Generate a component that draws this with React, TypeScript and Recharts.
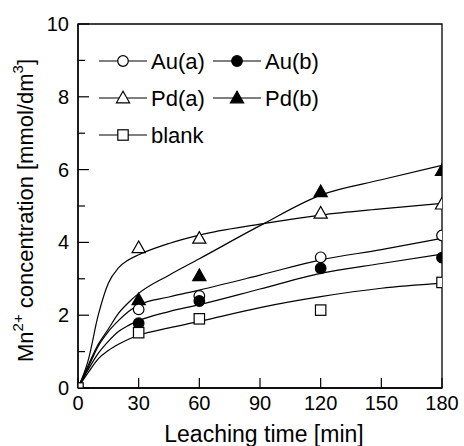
import React from 'react';
import { ComposedChart, Line, Scatter, XAxis, YAxis, ReferenceArea } from 'recharts';

// measured points
const pointTimes = [30, 60, 120, 180];
const auA = [2.16, 2.53, 3.59, 4.19];
const auB = [1.78, 2.39, 3.29, 3.58];
const pdA = [3.85, 4.11, 4.8, 5.05];
const pdB = [2.42, 3.08, 5.39, 5.97];
const blankTimes = [0, 30, 60, 120, 180];
const blankVals = [0, 1.52, 1.9, 2.14, 2.9];

// fitted curves
const curveTimes = [0, 5, 10, 15, 20, 25, 30, 45, 60, 90, 120, 150, 180];
const pdACurve = [0, 0.75, 2.0, 2.88, 3.3, 3.52, 3.66, 3.97, 4.2, 4.5, 4.75, 4.92, 5.07];
const pdBCurve = [0, 0.62, 1.2, 1.62, 2.05, 2.35, 2.6, 3.1, 3.55, 4.46, 5.3, 5.72, 6.12];
const auACurve = [0, 0.56, 1.15, 1.55, 1.85, 2.1, 2.28, 2.5, 2.69, 3.1, 3.52, 3.8, 4.11];
const auBCurve = [0, 0.5, 0.95, 1.28, 1.55, 1.72, 1.85, 2.1, 2.29, 2.72, 3.15, 3.42, 3.68];
const blankCurve = [0, 0.42, 0.8, 1.03, 1.2, 1.34, 1.45, 1.65, 1.83, 2.21, 2.51, 2.74, 2.88];

const xTicks = [0, 30, 60, 90, 120, 150, 180];
const yTicks = [0, 1, 2, 3, 4, 5, 6, 7, 8, 9, 10];

const curveRows = curveTimes.map((t, i) => ({
  x: t,
  pda: pdACurve[i],
  pdb: pdBCurve[i],
  aua: auACurve[i],
  aub: auBCurve[i],
  blank: blankCurve[i],
}));
const toRows = (ts: number[], vs: number[]) => ts.map((t, i) => ({ x: t, y: vs[i] }));

const FONT = '"Liberation Sans", Arial, sans-serif';

type Kind = 'circle' | 'triangle' | 'square';
const Marker = ({ cx, cy, kind, filled }: { cx: number; cy: number; kind: Kind; filled: boolean }) => {
  const fill = filled ? '#000' : '#fff';
  const sw = 1.2;
  if (kind === 'circle') return <circle cx={cx} cy={cy} r={5.3} fill={fill} stroke="#000" strokeWidth={sw} />;
  if (kind === 'square') return <rect x={cx - 5.2} y={cy - 5.2} width={10.4} height={10.4} fill={fill} stroke="#000" strokeWidth={sw} />;
  return (
    <polygon
      points={`${cx},${cy - 6.8} ${cx - 6.6},${cy + 4.8} ${cx + 6.6},${cy + 4.8}`}
      fill={fill}
      stroke="#000"
      strokeWidth={sw}
    />
  );
};

const shapeFor = (kind: Kind, filled: boolean) => (props: any) => (
  <Marker cx={props.cx} cy={props.cy} kind={kind} filled={filled} />
);

const XTick = (props: any) => {
  const { x, y, payload } = props;
  return (
    <g>
      <line x1={x} y1={y} x2={x} y2={y - 10} stroke="#000" strokeWidth={1.2} />
      <text x={x} y={y + 15} textAnchor="middle" dominantBaseline="central" fontSize={20} fontFamily={FONT} fill="#000">
        {payload.value}
      </text>
    </g>
  );
};

const YTick = (props: any) => {
  const { x, y, payload } = props;
  const major = payload.value % 2 === 0;
  return (
    <g>
      <line x1={x} y1={y} x2={x + (major ? 11 : 7)} y2={y} stroke="#000" strokeWidth={1.2} />
      {major && (
        <text x={x - 9} y={y} textAnchor="end" dominantBaseline="central" fontSize={20} fontFamily={FONT} fill="#000">
          {payload.value}
        </text>
      )}
    </g>
  );
};

const LegendItem = ({ x, y, kind, filled, label }: { x: number; y: number; kind: Kind; filled: boolean; label: string }) => (
  <g>
    <line x1={x - 24} y1={y} x2={x + 24} y2={y} stroke="#000" strokeWidth={1.2} />
    <Marker cx={x} cy={y} kind={kind} filled={filled} />
    <text x={x + 28} y={y} dominantBaseline="central" fontSize={22} fontFamily={FONT} fill="#000">
      {label}
    </text>
  </g>
);

export default function App() {
  return (
    <div style={{ position: 'absolute', left: 0, top: 0, width: 464, height: 446, background: '#fff' }}>
      <ComposedChart width={464} height={446} data={curveRows} margin={{ top: 24, right: 22, bottom: 0, left: 0 }}>
        <XAxis
          type="number"
          dataKey="x"
          domain={[0, 180]}
          ticks={xTicks}
          interval={0}
          height={58}
          tickSize={0}
          tickMargin={0}
          tickLine={false}
          axisLine={{ stroke: '#000', strokeWidth: 1.3 }}
          tick={<XTick />}
          allowDataOverflow
        />
        <YAxis
          type="number"
          domain={[0, 10]}
          ticks={yTicks}
          interval={0}
          width={78}
          tickSize={0}
          tickMargin={0}
          tickLine={false}
          axisLine={{ stroke: '#000', strokeWidth: 1.3 }}
          tick={<YTick />}
          allowDataOverflow
        />
        <ReferenceArea x1={0} x2={180} y1={0} y2={10} fill="none" stroke="#000" strokeWidth={1.3} ifOverflow="visible" />
        <Line type="monotone" dataKey="pda" stroke="#000" strokeWidth={1.2} dot={false} isAnimationActive={false} />
        <Line type="monotone" dataKey="pdb" stroke="#000" strokeWidth={1.2} dot={false} isAnimationActive={false} />
        <Line type="monotone" dataKey="aua" stroke="#000" strokeWidth={1.2} dot={false} isAnimationActive={false} />
        <Line type="monotone" dataKey="aub" stroke="#000" strokeWidth={1.2} dot={false} isAnimationActive={false} />
        <Line type="monotone" dataKey="blank" stroke="#000" strokeWidth={1.2} dot={false} isAnimationActive={false} />
        <Scatter data={toRows(pointTimes, pdA)} dataKey="y" shape={shapeFor('triangle', false)} isAnimationActive={false} />
        <Scatter data={toRows(pointTimes, pdB)} dataKey="y" shape={shapeFor('triangle', true)} isAnimationActive={false} />
        <Scatter data={toRows(pointTimes, auA)} dataKey="y" shape={shapeFor('circle', false)} isAnimationActive={false} />
        <Scatter data={toRows(pointTimes, auB)} dataKey="y" shape={shapeFor('circle', true)} isAnimationActive={false} />
        <Scatter data={toRows(blankTimes, blankVals)} dataKey="y" shape={shapeFor('square', false)} isAnimationActive={false} />
      </ComposedChart>
      <svg width={464} height={446} style={{ position: 'absolute', left: 0, top: 0, pointerEvents: 'none' }}>
        <LegendItem x={123} y={61} kind="circle" filled={false} label="Au(a)" />
        <LegendItem x={237} y={61} kind="circle" filled={true} label="Au(b)" />
        <LegendItem x={123} y={98} kind="triangle" filled={false} label="Pd(a)" />
        <LegendItem x={237} y={98} kind="triangle" filled={true} label="Pd(b)" />
        <LegendItem x={123} y={135} kind="square" filled={false} label="blank" />
        <text x={264} y={434} textAnchor="middle" dominantBaseline="central" fontSize={23} fontFamily={FONT} fill="#000">
          Leaching time [min]
        </text>
        <text
          x={25}
          y={362}
          transform="rotate(-90 25 362)"
          textAnchor="start"
          dominantBaseline="central"
          fontSize={22}
          fontFamily={FONT}
          fill="#000"
        >
          Mn<tspan fontSize={15} dy={-8}>2+</tspan>
          <tspan dy={8}> concentration [mmol/dm</tspan>
          <tspan fontSize={15} dy={-8}>3</tspan>
          <tspan dy={8}>]</tspan>
        </text>
      </svg>
    </div>
  );
}
